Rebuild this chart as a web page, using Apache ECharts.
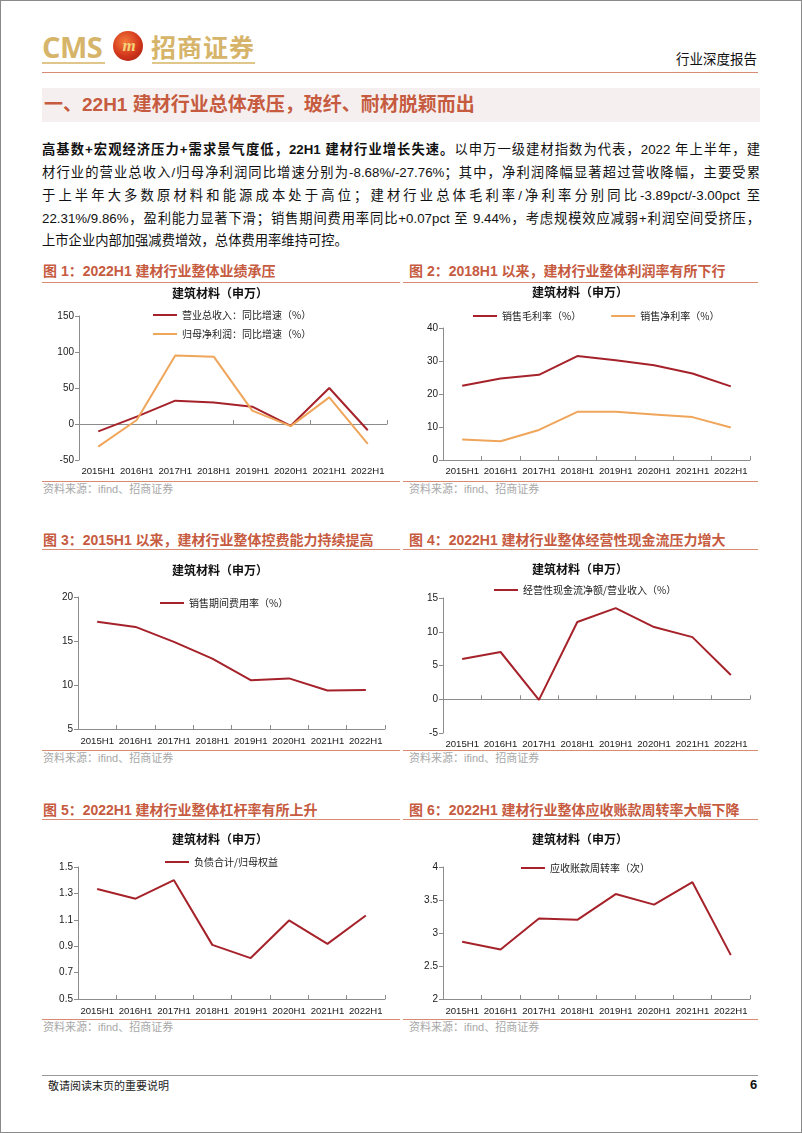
<!DOCTYPE html>
<html><head><meta charset="utf-8">
<script src="https://cdn.jsdelivr.net/npm/echarts@6/dist/echarts.min.js"></script>
<style>
html,body{margin:0;padding:0;background:#fff;}
body{width:802px;height:1133px;position:relative;overflow:hidden;font-family:"Liberation Sans",Arial,"Noto Sans CJK SC",sans-serif;color:#111;}
.abs{position:absolute;}
.frame{left:0;top:0;width:800px;height:1131px;border:1px solid #8a8a8a;}
.cms{left:42px;top:30px;font-family:"Open Sans","Liberation Sans",sans-serif;font-weight:700;font-size:29px;color:#D6B46A;letter-spacing:-0.5px;line-height:34px;}
.emb{left:113px;top:31px;width:30px;height:30px;border-radius:50%;background:radial-gradient(circle at 40% 35%,#F47A3A 0%,#D2361C 55%,#9A1A10 100%);color:#F5D27A;font:italic 700 17px "Liberation Serif",serif;text-align:center;line-height:29px;letter-spacing:-2px;}
.zs{left:151px;top:29px;font-family:"Noto Sans CJK SC";font-weight:700;font-size:25px;color:#D6B46A;line-height:34px;letter-spacing:1px;}
.gl{height:2px;background:#E0C68A;top:62px;}
.hdr{right:45px;top:48px;font-family:"Noto Sans CJK SC";font-size:13.5px;color:#111;}
.hline{left:42px;top:72px;width:716px;height:1px;background:#D98A72;}
.bar{left:42px;top:88px;width:718px;height:34px;background:#F5F0EF;}
.sect{left:44px;top:88px;line-height:34px;font-family:"Liberation Sans","Noto Sans CJK SC";font-weight:700;font-size:19px;color:#C65B3F;}
.p{left:42px;width:718px;font-family:"Liberation Sans","Noto Sans CJK SC";font-size:13.3px;line-height:22px;text-align:justify;text-align-last:justify;white-space:nowrap;}
.p.last{text-align-last:left;}
.ft{font-family:"Liberation Sans","Noto Sans CJK SC";font-weight:700;font-size:14px;color:#C65B3F;line-height:16px;}
.ul{height:1px;background:#D98A72;}
.src{font-family:"Liberation Sans","Noto Sans CJK SC";font-size:11px;color:#A8A8A8;line-height:14px;}
.chart{position:absolute;width:360px;}
.fline{left:42px;top:1075px;width:716px;height:1px;background:#9a9a9a;}
.ftxt{left:48px;top:1078px;font-family:"Noto Sans CJK SC";font-size:11px;color:#222;line-height:14px;}
.pg{left:750px;top:1077px;font-weight:700;font-size:13px;color:#111;}
</style></head><body>
<div class="abs frame"></div>
<div class="abs cms">CMS</div>
<div class="abs emb">m</div>
<div class="abs zs">招商证券</div>
<div class="abs gl" style="left:42px;width:63px;"></div>
<div class="abs gl" style="left:152px;width:103px;"></div>
<div class="abs hdr">行业深度报告</div>
<div class="abs hline"></div>
<div class="abs bar"></div>
<div class="abs sect">一、22H1 建材行业总体承压，玻纤、耐材脱颖而出</div>

<div class="abs p" style="top:139px;"><b>高基数+宏观经济压力+需求景气度低，22H1 建材行业增长失速。</b>以申万一级建材指数为代表，2022 年上半年，建</div>
<div class="abs p" style="top:162px;">材行业的营业总收入/归母净利润同比增速分别为-8.68%/-27.76%；其中，净利润降幅显著超过营收降幅，主要受累</div>
<div class="abs p" style="top:185px;">于上半年大多数原材料和能源成本处于高位；建材行业总体毛利率/净利率分别同比-3.89pct/-3.00pct 至</div>
<div class="abs p" style="top:208px;">22.31%/9.86%，盈利能力显著下滑；销售期间费用率同比+0.07pct 至 9.44%，考虑规模效应减弱+利润空间受挤压，</div>
<div class="abs p last" style="top:230px;">上市企业内部加强减费增效，总体费用率维持可控。</div>

<div class="abs ft" style="left:43px;top:263px;">图 1：2022H1 建材行业整体业绩承压</div>
<div class="abs ul" style="left:42px;top:282px;width:358px;"></div>
<div class="abs ft" style="left:409px;top:263px;">图 2：2018H1 以来，建材行业整体利润率有所下行</div>
<div class="abs ul" style="left:403px;top:282px;width:355px;"></div>
<div id="c1" class="chart" style="left:40px;top:283px;height:198px;"></div>
<div id="c2" class="chart" style="left:400px;top:283px;height:198px;"></div>
<div class="abs ul" style="left:42px;top:481px;width:358px;"></div>
<div class="abs ul" style="left:403px;top:481px;width:355px;"></div>
<div class="abs src" style="left:43px;top:482px;">资料来源：ifind、招商证券</div>
<div class="abs src" style="left:409px;top:482px;">资料来源：ifind、招商证券</div>

<div class="abs ft" style="left:43px;top:532px;">图 3：2015H1 以来，建材行业整体控费能力持续提高</div>
<div class="abs ul" style="left:42px;top:549px;width:358px;"></div>
<div class="abs ft" style="left:409px;top:532px;">图 4：2022H1 建材行业整体经营性现金流压力增大</div>
<div class="abs ul" style="left:403px;top:549px;width:355px;"></div>
<div id="c3" class="chart" style="left:40px;top:549px;height:201px;"></div>
<div id="c4" class="chart" style="left:400px;top:549px;height:201px;"></div>
<div class="abs ul" style="left:42px;top:750px;width:358px;"></div>
<div class="abs ul" style="left:403px;top:750px;width:355px;"></div>
<div class="abs src" style="left:43px;top:751px;">资料来源：ifind、招商证券</div>
<div class="abs src" style="left:409px;top:751px;">资料来源：ifind、招商证券</div>

<div class="abs ft" style="left:43px;top:802px;">图 5：2022H1 建材行业整体杠杆率有所上升</div>
<div class="abs ul" style="left:42px;top:819px;width:358px;"></div>
<div class="abs ft" style="left:409px;top:802px;">图 6：2022H1 建材行业整体应收账款周转率大幅下降</div>
<div class="abs ul" style="left:403px;top:819px;width:355px;"></div>
<div id="c5" class="chart" style="left:40px;top:819px;height:200px;"></div>
<div id="c6" class="chart" style="left:400px;top:819px;height:200px;"></div>
<div class="abs ul" style="left:42px;top:1019px;width:358px;"></div>
<div class="abs ul" style="left:403px;top:1019px;width:355px;"></div>
<div class="abs src" style="left:43px;top:1020px;">资料来源：ifind、招商证券</div>
<div class="abs src" style="left:409px;top:1020px;">资料来源：ifind、招商证券</div>

<div class="abs fline"></div>
<div class="abs ftxt">敬请阅读末页的重要说明</div>
<div class="abs pg">6</div>

<script>
// ---- data ----
const categories = ['2015H1','2016H1','2017H1','2018H1','2019H1','2020H1','2021H1','2022H1'];
const revenueGrowth = [-10.2, 10.2, 32.4, 30.0, 24.0, -2.5, 50.0, -8.68];
const netProfitGrowth = [-31.5, 5.5, 95.0, 93.5, 18.5, -3.0, 37.0, -27.76];
const grossMargin = [22.5, 24.7, 25.8, 31.5, 30.2, 28.7, 26.2, 22.31];
const netMargin = [6.2, 5.7, 9.1, 14.6, 14.6, 13.8, 13.0, 9.86];
const expenseRatio = [17.2, 16.6, 14.9, 13.0, 10.55, 10.75, 9.38, 9.44];
const cashFlowRatio = [5.95, 7.0, -0.1, 11.45, 13.5, 10.7, 9.2, 3.6];
const leverageRatio = [1.333, 1.26, 1.40, 0.91, 0.81, 1.095, 0.918, 1.133];
const receivableTurnover = [2.866, 2.75, 3.22, 3.20, 3.59, 3.43, 3.77, 2.665];

const yTicks1 = [-50, 0, 50, 100, 150];
const yTicks2 = [0, 10, 20, 30, 40];
const yTicks3 = [5, 10, 15, 20];
const yTicks4 = [-5, 0, 5, 10, 15];
const yTicks5 = [0.5, 0.7, 0.9, 1.1, 1.3, 1.5];
const yTicks6 = [2, 2.5, 3, 3.5, 4];

const RED = '#A6222A', ORANGE = '#EFA55A';
const chartTitle = '建筑材料（申万）';
const XLBL = {color:'#1a1a1a', fontSize:9.6, fontFamily:'Liberation Sans, Arial'};
const YLBL = {color:'#1a1a1a', fontSize:10, fontFamily:'Liberation Sans, Arial'};
const LEG = {color:'#222', fontSize:10, fontFamily:'Noto Sans CJK SC'};

function make(id, cfg){
  const ch = echarts.init(document.getElementById(id), null, {renderer:'canvas'});
  const t = cfg.ticks;
  const xAxes = [{
    type:'category', data:categories, boundaryGap:true,
    axisLine:{show:!cfg.splitZero, onZero:!cfg.splitZero, lineStyle:{color:'#8c8c8c', width:1}},
    axisTick:{show:!cfg.splitZero, inside:true, length:4, lineStyle:{color:'#8c8c8c'}},
    axisLabel:{...XLBL, margin:cfg.labelMargin||6, interval:0}
  }];
  if (cfg.splitZero){
    xAxes.push({
      type:'category', data:categories, boundaryGap:true, position:'bottom',
      axisLine:{show:true, onZero:true, lineStyle:{color:'#8c8c8c', width:1}},
      axisTick:{show:true, inside:true, length:4, lineStyle:{color:'#8c8c8c'}},
      axisLabel:{show:false}
    });
  }
  const opt = {
    animation:false,
    title:{text:chartTitle, left:'center', top:cfg.titleTop, padding:0,
      textStyle:{fontSize:12, fontWeight:'bold', color:'#111', fontFamily:'Noto Sans CJK SC'}},
    legend:{orient:cfg.legendOrient||'horizontal', left:cfg.legendLeft, top:cfg.legendTop,
      icon:'rect', itemWidth:24, itemHeight:2, itemGap:cfg.legendGap||9, padding:0, textStyle:LEG,
      data:cfg.series.map(s=>s.name)},
    grid:{left:cfg.grid[0], right:cfg.grid[1], top:cfg.grid[2], bottom:cfg.grid[3], containLabel:false},
    xAxis:xAxes,
    yAxis:{type:'value', min:t[0], max:t[t.length-1], interval:t[1]-t[0],
      axisLine:{show:true, lineStyle:{color:'#8c8c8c'}},
      axisTick:{show:true, length:4, lineStyle:{color:'#8c8c8c'}},
      splitLine:{show:false},
      axisLabel:{...YLBL, margin:5, formatter:cfg.yFmt||(v=>String(+v.toFixed(2)))}},
    series:cfg.series.map(s=>({type:'line', name:s.name, data:s.data, xAxisIndex:0,
      symbol:'none', smooth:false, lineStyle:{color:s.color, width:2}, itemStyle:{color:s.color}}))
  };
  ch.setOption(opt);
}

make('c1', {ticks:yTicks1, grid:[39,13,33,21], titleTop:4, splitZero:true,
  legendOrient:'vertical', legendLeft:113, legendTop:27, legendGap:9,
  series:[{name:'营业总收入：同比增速（%）', data:revenueGrowth, color:RED},
          {name:'归母净利润：同比增速（%）', data:netProfitGrowth, color:ORANGE}]});
make('c2', {ticks:yTicks2, grid:[43,10,45,21], titleTop:3,
  legendLeft:73, legendTop:28, legendGap:30,
  series:[{name:'销售毛利率（%）', data:grossMargin, color:RED},
          {name:'销售净利率（%）', data:netMargin, color:ORANGE}]});
make('c3', {ticks:yTicks3, grid:[38,15,48,21], titleTop:15,
  legendLeft:120, legendTop:49, labelMargin:7,
  series:[{name:'销售期间费用率（%）', data:expenseRatio, color:RED}]});
make('c4', {ticks:yTicks4, grid:[43,10,49,17], titleTop:14,
  legendLeft:94, legendTop:36,
  series:[{name:'经营性现金流净额/营业收入（%）', data:cashFlowRatio, color:RED}]});
make('c5', {ticks:yTicks5, grid:[38,15,48,20], titleTop:14,
  legendLeft:125, legendTop:38, labelMargin:7, yFmt:v=>v.toFixed(1),
  series:[{name:'负债合计/归母权益', data:leverageRatio, color:RED}]});
make('c6', {ticks:yTicks6, grid:[43,10,48,20], titleTop:14,
  legendLeft:121, legendTop:44, labelMargin:7,
  series:[{name:'应收账款周转率（次）', data:receivableTurnover, color:RED}]});
</script>
</body></html>
